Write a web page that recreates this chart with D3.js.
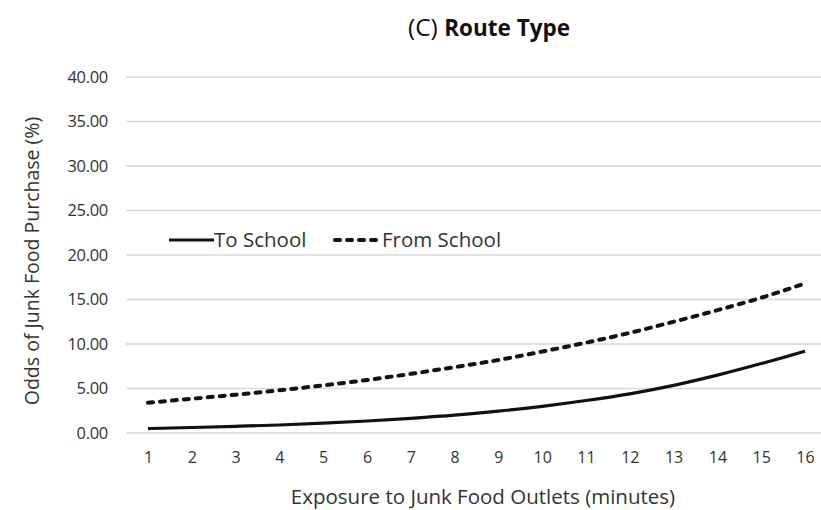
<!DOCTYPE html>
<html><head><meta charset="utf-8">
<script src="https://cdn.jsdelivr.net/npm/d3@7"></script>
<style>body{margin:0;background:#fff}svg{display:block}</style>
</head><body>
<script>
const minutes = [1,2,3,4,5,6,7,8,9,10,11,12,13,14,15,16];
const toSchool = [0.5,0.62,0.75,0.9,1.1,1.35,1.65,2.0,2.45,3.0,3.65,4.4,5.35,6.5,7.8,9.2];
const fromSchool = [3.4,3.85,4.3,4.8,5.35,5.95,6.65,7.4,8.2,9.15,10.15,11.25,12.5,13.8,15.2,16.8];
const yTicks = [0,5,10,15,20,25,30,35,40];
const seriesNames = ["To School","From School"];

const W=821,H=510;
const font="'Open Sans', Lato, sans-serif";
const svg=d3.select("body").append("svg").attr("width",W).attr("height",H);
const x=d3.scalePoint().domain(minutes).range([148,805]);
const y=d3.scaleLinear().domain([0,40]).range([433,77]);

// gridlines
svg.append("g").selectAll("line").data(yTicks).join("line")
  .attr("x1",126).attr("x2",826).attr("y1",d=>y(d)).attr("y2",d=>y(d))
  .attr("stroke","#d9d9d9").attr("stroke-width",1.3);

// y axis labels
const ya=svg.append("g").attr("transform","translate(108,0)")
  .call(d3.axisLeft(y).tickValues(yTicks).tickFormat(d3.format(".2f")).tickSize(0).tickPadding(0));
ya.select(".domain").remove();
ya.selectAll("text").attr("font-family",font).attr("font-size",16.5).attr("fill","#333").attr("letter-spacing",-0.3);

// x axis labels
const xa=svg.append("g").attr("transform","translate(0,452)")
  .call(d3.axisBottom(x).tickSize(0).tickPadding(0));
xa.select(".domain").remove();
xa.selectAll("text").attr("font-family",font).attr("font-size",16).attr("fill","#333");

const line=d3.line().x((d,i)=>x(minutes[i])).y(d=>y(d)).curve(d3.curveMonotoneX);
svg.append("path").datum(toSchool).attr("d",line).attr("fill","none")
  .attr("stroke","#111").attr("stroke-width",3.2);
svg.append("path").datum(fromSchool).attr("d",line).attr("fill","none")
  .attr("stroke","#111").attr("stroke-width",4).attr("stroke-linecap","round").attr("stroke-dasharray","5,7");

// legend
const lg=svg.append("g").attr("font-family",font).attr("font-size",20.5).attr("fill","#333");
lg.append("line").attr("x1",169).attr("x2",214).attr("y1",240).attr("y2",240).attr("stroke","#111").attr("stroke-width",3.2);
lg.append("text").attr("x",214).attr("y",247).text(seriesNames[0]);
lg.append("line").attr("x1",335).attr("x2",379).attr("y1",240).attr("y2",240).attr("stroke","#111").attr("stroke-width",4).attr("stroke-linecap","round").attr("stroke-dasharray","5,7");
lg.append("text").attr("x",382).attr("y",247).text(seriesNames[1]);

// title
const t=svg.append("text").attr("x",489).attr("y",36).attr("text-anchor","middle").attr("font-family",font).attr("font-size",22.5).attr("fill","#111");
t.append("tspan").attr("font-size",24.5).text("(C) ");
t.append("tspan").attr("font-weight","bold").text("Route Type");

// axis titles
svg.append("text").attr("transform","translate(39,261) rotate(-90)").attr("text-anchor","middle")
  .attr("font-family",font).attr("font-size",19.5).attr("fill","#333").text("Odds of Junk Food Purchase (%)");
svg.append("text").attr("x",483).attr("y",504).attr("text-anchor","middle")
  .attr("font-family",font).attr("font-size",20.5).attr("fill","#333").text("Exposure to Junk Food Outlets (minutes)");
</script>
</body></html>
